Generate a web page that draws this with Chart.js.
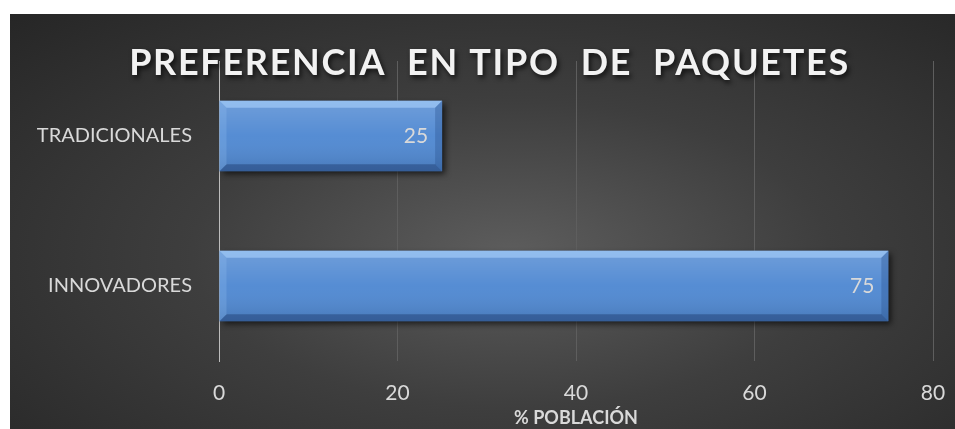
<!DOCTYPE html>
<html>
<head>
<meta charset="utf-8">
<script src="https://cdn.jsdelivr.net/npm/chart.js@4.4.1/dist/chart.umd.min.js"></script>
<style>
  html, body { margin: 0; padding: 0; background: #ffffff; }
  #wrap {
    position: absolute; left: 10px; top: 14px; width: 945px; height: 415px;
    background: radial-gradient(ellipse farthest-corner at 53% 58%, #5d5d5d 0%, #3e3e3e 45%, #262626 100%);
  }
</style>
</head>
<body>
<div id="wrap"><canvas id="chart" width="945" height="415"></canvas></div>
<script>
const chartTitle = "PREFERENCIA  EN TIPO  DE  PAQUETES";
const categories = ["TRADICIONALES", "INNOVADORES"];
const poblacion = [25, 75];
const xTicks = [0, 20, 40, 60, 80];
const axisTitle = "% POBLACIÓN";

const FONT = "Lato, 'Open Sans', sans-serif";

// shadow under the bars, bevel on top, value labels and the big title
const barStyle = {
  id: "barStyle",
  beforeDatasetsDraw(chart) {
    const ctx = chart.ctx;
    ctx.save();
    ctx.shadowColor = "rgba(0,0,0,0.65)";
    ctx.shadowBlur = 6;
    ctx.shadowOffsetX = 3;
    ctx.shadowOffsetY = 3;
  },
  afterDatasetsDraw(chart) {
    const ctx = chart.ctx;
    ctx.restore();
    const meta = chart.getDatasetMeta(0);
    meta.data.forEach((bar, i) => {
      const p = bar.getProps(["x", "y", "base", "height"], true);
      const left = Math.min(p.base, p.x), right = Math.max(p.base, p.x);
      const top = p.y - p.height / 2, bottom = p.y + p.height / 2;
      const b = 7;
      ctx.save();
      const g = ctx.createLinearGradient(0, top, 0, bottom);
      g.addColorStop(0, "rgba(255,255,255,0.18)");
      g.addColorStop(0.5, "rgba(255,255,255,0.03)");
      g.addColorStop(1, "rgba(0,0,0,0.12)");
      ctx.fillStyle = g;
      ctx.fillRect(left, top, right - left, bottom - top);
      // top bevel
      ctx.fillStyle = "rgba(170,210,252,0.6)";
      ctx.beginPath();
      ctx.moveTo(left, top); ctx.lineTo(right, top);
      ctx.lineTo(right - b, top + b); ctx.lineTo(left + b, top + b);
      ctx.closePath(); ctx.fill();
      // right bevel
      ctx.fillStyle = "rgba(40,80,140,0.35)";
      ctx.beginPath();
      ctx.moveTo(right, top); ctx.lineTo(right, bottom);
      ctx.lineTo(right - b, bottom - b); ctx.lineTo(right - b, top + b);
      ctx.closePath(); ctx.fill();
      // bottom bevel
      ctx.fillStyle = "rgba(30,60,110,0.45)";
      ctx.beginPath();
      ctx.moveTo(left, bottom); ctx.lineTo(right, bottom);
      ctx.lineTo(right - b, bottom - b); ctx.lineTo(left + b, bottom - b);
      ctx.closePath(); ctx.fill();
      // left bevel
      ctx.fillStyle = "rgba(150,195,245,0.25)";
      ctx.beginPath();
      ctx.moveTo(left, top); ctx.lineTo(left, bottom);
      ctx.lineTo(left + b, bottom - b); ctx.lineTo(left + b, top + b);
      ctx.closePath(); ctx.fill();
      // value label
      ctx.fillStyle = "#d9d9d9";
      ctx.font = "21px " + FONT;
      ctx.textAlign = "right";
      ctx.textBaseline = "middle";
      ctx.fillText(String(poblacion[i]), right - 14, p.y);
      ctx.restore();
    });
  },
  afterDraw(chart) {
    const ctx = chart.ctx;
    ctx.save();
    ctx.font = "bold 36px " + FONT;
    ctx.letterSpacing = "1.7px";
    ctx.textAlign = "center";
    ctx.textBaseline = "alphabetic";
    ctx.shadowColor = "rgba(0,0,0,0.7)";
    ctx.shadowBlur = 5;
    ctx.shadowOffsetX = 2;
    ctx.shadowOffsetY = 3;
    ctx.fillStyle = "#f2f2f2";
    ctx.fillText(chartTitle, chart.width / 2 + 7, 61);
    ctx.restore();
  }
};

new Chart(document.getElementById("chart"), {
  type: "bar",
  data: {
    labels: categories,
    datasets: [{
      data: poblacion,
      backgroundColor: "#5089d2",
      borderWidth: 0,
      categoryPercentage: 1,
      barPercentage: 0.47
    }]
  },
  options: {
    indexAxis: "y",
    responsive: false,
    animation: false,
    layout: { padding: { top: 47, right: 22, left: 0, bottom: 0 } },
    plugins: { legend: { display: false }, tooltip: { enabled: false } },
    scales: {
      x: {
        min: 0,
        max: 80,
        afterBuildTicks(scale) { scale.ticks = xTicks.map(v => ({ value: v })); },
        afterFit(scale) { scale.height = 68; scale.paddingRight = 0; scale.paddingLeft = 0; },
        grid: { color: "#5e5e5e", lineWidth: 1, drawTicks: false },
        border: { display: false },
        ticks: { color: "#d9d9d9", font: { family: FONT, size: 21 }, padding: 20 },
        title: {
          display: true, text: axisTitle, color: "#d9d9d9",
          font: { family: FONT, size: 18, weight: "bold" }, padding: { top: 0, bottom: 0 }
        }
      },
      y: {
        afterFit(scale) { scale.width = 209; },
        grid: { display: false },
        border: { display: true, color: "#bdbdbd", width: 1 },
        ticks: { color: "#d9d9d9", font: { family: FONT, size: 20 }, padding: 19 }
      }
    }
  },
  plugins: [barStyle]
});
</script>
</body>
</html>
